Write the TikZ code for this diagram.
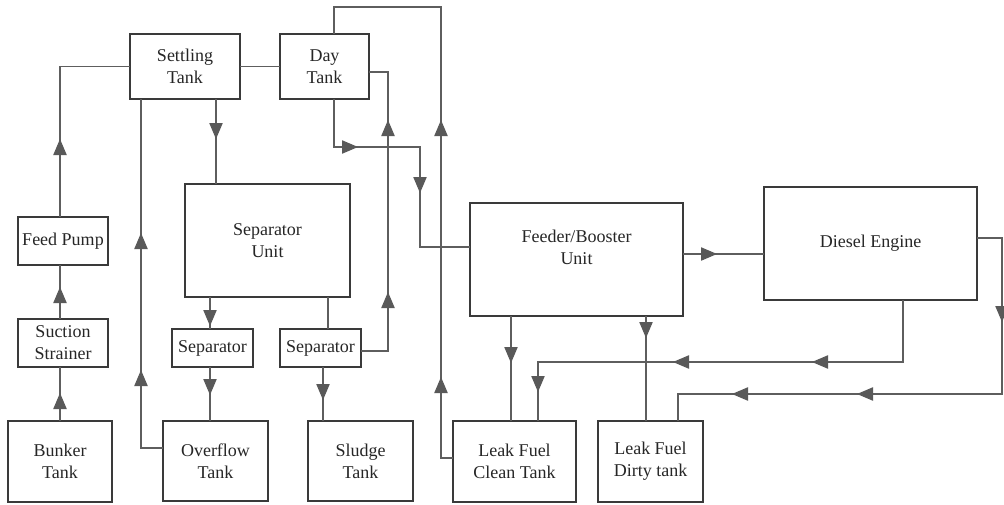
\documentclass[tikz,border=0pt]{standalone}
\usepackage{fontspec}
\setmainfont{Liberation Serif}
\newfontfamily\tnrfont{Liberation Serif}
\usetikzlibrary{arrows.meta,decorations.markings}
\definecolor{linec}{HTML}{5E5E5E}
\definecolor{boxc}{HTML}{3A3A3A}
\definecolor{tipc}{HTML}{595959}
\definecolor{txtc}{HTML}{262626}
\tikzset{
  box/.style={draw=boxc, line width=0.8pt, inner sep=0pt, outer sep=0pt, align=center,
    text=txtc, font=\tnrfont\fontsize{13.5pt}{16.5pt}\selectfont},
  sz/.style 2 args={minimum width=#1*0.75pt, minimum height=#2*0.75pt},
  conn/.style={draw=linec, line width=0.8pt},
  am/.style={postaction={decorate, decoration={markings,
    mark=at position #1*0.75pt with {\arrow{Triangle[length=12pt,width=10pt,color=tipc]}}}}}
}
\begin{document}
\begin{tikzpicture}[x=0.75pt, y=-0.75pt]
\useasboundingbox (0,0) rectangle (1004,504);
\clip (0,0) rectangle (1004,504);
% boxes
\node[box, sz={110}{65}] (settle) at (185,66.5) {Settling\\Tank};
\node[box, sz={89}{65}] (day) at (324.5,66.5) {Day\\Tank};
\node[box, sz={165}{113}] (sepu) at (267.5,240.5) {Separator\\Unit};
\node[box, sz={90}{48}] (feed) at (63,241) {Feed Pump};
\node[box, sz={90}{48}] (strainer) at (63,343) {Suction\\Strainer};
\node[box, sz={104}{81}] (bunker) at (60,461.5) {Bunker\\Tank};
\node[box, sz={81}{38}] (sepL) at (212.5,348) {Separator};
\node[box, sz={81}{38}] (sepR) at (320.5,348) {Separator};
\node[box, sz={105}{80}] (overflow) at (215.5,461) {Overflow\\Tank};
\node[box, sz={105}{80}] (sludge) at (360.5,461) {Sludge\\Tank};
\node[box, sz={213}{113}] (feeder) at (576.5,259.5) {Feeder/Booster\\Unit\\[2pt]\mbox{}};
\node[box, sz={123}{81}] (clean) at (514.5,461.5) {Leak Fuel\\Clean Tank};
\node[box, sz={105}{81}] (dirty) at (650.5,461.5) {Leak Fuel\\Dirty tank};
\node[box, sz={213}{113}] (diesel) at (870.5,243.5) {Diesel Engine};
% bend coordinates
\coordinate (b4) at (141,448);
\coordinate (x5) at (216,0);
\coordinate (b7a) at (441,458);
\coordinate (b7b) at (441,7);
\coordinate (x7) at (334,7);
\coordinate (b8a) at (334,147);
\coordinate (b8b) at (420,147);
\coordinate (b8c) at (420,247);
\coordinate (b9a) at (388,351);
\coordinate (b9b) at (388,72);
\coordinate (x10) at (210,0);
\coordinate (x11) at (328,0);
\coordinate (x13) at (323,0);
\coordinate (y14) at (0,254);
\coordinate (x15) at (511,0);
\coordinate (x16) at (646,0);
\coordinate (b17a) at (903,362);
\coordinate (b17b) at (538,362);
\coordinate (b18a) at (1002,238);
\coordinate (b18b) at (1002,394);
\coordinate (b18c) at (678,394);
% connectors
\draw[conn, am=28] (bunker.north) -- (bunker.north |- strainer.south);
\draw[conn, am=32] (bunker.north |- strainer.north) -- (bunker.north |- feed.south);
\draw[conn, am=78] (bunker.north |- feed.north) |- (settle.west);
\draw[conn, am=100, am=237] (b4 -| overflow.west) -- (b4) -- (b4 |- settle.south);
\draw[conn, am=40] (x5 |- settle.south) -- (x5 |- sepu.north);
\draw[conn] (settle.east) -- (day.west);
\draw[conn, am=93, am=350] (b7a -| clean.west) -- (b7a) -- (b7b) -- (x7) -- (x7 |- day.north);
\draw[conn, am=72, am=180] (b8a |- day.south) -- (b8a) -- (b8b) -- (b8c) -- (b8c -| feeder.west);
\draw[conn, am=86, am=258] (b9a -| sepR.east) -- (b9a) -- (b9b) -- (b9b -| day.east);
\draw[conn, am=29] (x10 |- sepu.south) -- (x10 |- sepL.north);
\draw[conn] (x11 |- sepu.south) -- (x11 |- sepR.north);
\draw[conn, am=28] (x10 |- sepL.south) -- (x10 |- overflow.north);
\draw[conn, am=33] (x13 |- sepR.south) -- (x13 |- sludge.north);
\draw[conn, am=34] (y14 -| feeder.east) -- (y14 -| diesel.west);
\draw[conn, am=47] (x15 |- feeder.south) -- (x15 |- clean.north);
\draw[conn, am=22] (x16 |- feeder.south) -- (x16 |- dirty.north);
\draw[conn, am=153, am=292, am=457] (b17a |- diesel.south) -- (b17a) -- (b17b) -- (b17b |- clean.north);
\draw[conn, am=109, am=326, am=451] (b18a -| diesel.east) -- (b18a) -- (b18b) -- (b18c) -- (b18c |- dirty.north);
\end{tikzpicture}
\end{document}
